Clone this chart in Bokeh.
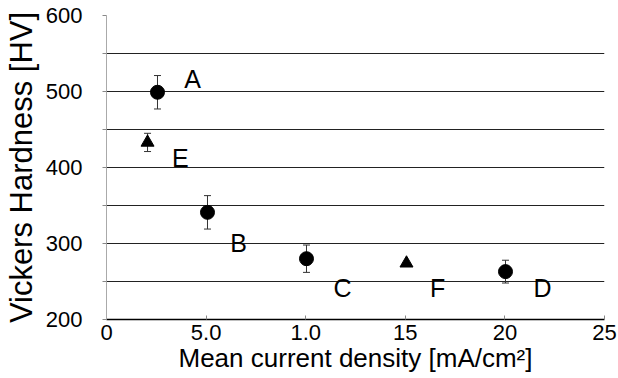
from bokeh.plotting import figure
from bokeh.models import ColumnDataSource, FixedTicker, Whisker, TeeHead, Range1d
from bokeh.core.properties import value
from bokeh.embed import file_html
from bokeh.resources import INLINE

# --- data ---
circle_names = ["A", "B", "C", "D"]
circle_x = [2.56, 5.07, 10.04, 20.03]
circle_y = [499, 341, 280, 263]
circle_err = [22, 22, 18, 15]

tri_names = ["E", "F"]
tri_x = [2.06, 15.06]
tri_y = [433, 274]
tri_err = [12, 0]

label_names = ["A", "E", "B", "C", "F", "D"]
label_x = [4.32, 3.71, 6.63, 11.85, 16.62, 21.89]
label_y = [517, 412, 301, 241, 242, 241]

x_ticks = [0, 5, 10, 15, 20, 25]
x_tick_labels = ["0", "5.0", "1.0", "15", "20", "25"]
y_ticks = [200, 300, 400, 500, 600]
y_minor = [250, 350, 450, 550]

FONT = "Liberation Sans"

p = figure(width=618, height=378, output_backend="svg", toolbar_location=None,
           x_range=Range1d(0, 25), y_range=Range1d(200, 600),
           min_border_left=106, min_border_top=15, min_border_right=14, min_border_bottom=59)
p.outline_line_color = None
p.background_fill_color = "white"

# grid
p.xgrid.visible = False
p.ygrid.ticker = FixedTicker(ticks=y_ticks + y_minor)
p.ygrid.grid_line_color = "#222222"
p.ygrid.grid_line_width = 1

# x axis
p.xaxis.ticker = FixedTicker(ticks=x_ticks)
p.xaxis.major_label_overrides = {t: l for t, l in zip(x_ticks, x_tick_labels)}
p.xaxis.axis_line_color = "black"
p.xaxis.axis_line_width = 1.5
p.xaxis.major_tick_in = 4
p.xaxis.major_tick_out = 0
p.xaxis.major_tick_line_color = "#888888"
p.xaxis.minor_tick_line_color = None
p.xaxis.major_label_standoff = 5
p.xaxis.major_label_text_font = FONT
p.xaxis.major_label_text_font_size = "22px"
p.xaxis.major_label_text_color = "black"
p.xaxis.axis_label = "Mean current density [mA/cm²]"
p.xaxis.axis_label_text_font = FONT
p.xaxis.axis_label_text_font_size = "26px"
p.xaxis.axis_label_text_font_style = "normal"
p.xaxis.axis_label_text_color = "black"
p.xaxis.axis_label_standoff = 0

# y axis
p.yaxis.ticker = FixedTicker(ticks=y_ticks, minor_ticks=y_minor)
p.yaxis.axis_line_color = "#aaaaaa"
p.yaxis.axis_line_width = 1
p.yaxis.major_tick_in = 0
p.yaxis.major_tick_out = 4
p.yaxis.minor_tick_in = 0
p.yaxis.minor_tick_out = 4
p.yaxis.major_tick_line_color = "#888888"
p.yaxis.minor_tick_line_color = "#888888"
p.yaxis.major_label_standoff = 20
p.yaxis.major_label_text_font = FONT
p.yaxis.major_label_text_font_size = "22px"
p.yaxis.major_label_text_color = "black"
p.yaxis.axis_label = "Vickers Hardness [HV]"
p.yaxis.axis_label_text_font = FONT
p.yaxis.axis_label_text_font_size = "31px"
p.yaxis.axis_label_text_font_style = "normal"
p.yaxis.axis_label_text_color = "black"
p.yaxis.axis_label_standoff = 4

# error bars
c_src = ColumnDataSource(dict(x=circle_x, y=circle_y,
                              lo=[y - e for y, e in zip(circle_y, circle_err)],
                              hi=[y + e for y, e in zip(circle_y, circle_err)]))
tx = [x for x, e in zip(tri_x, tri_err) if e > 0]
ty = [y for y, e in zip(tri_y, tri_err) if e > 0]
te = [e for e in tri_err if e > 0]
t_src_err = ColumnDataSource(dict(x=tx, lo=[y - e for y, e in zip(ty, te)],
                                  hi=[y + e for y, e in zip(ty, te)]))
for src in (c_src, t_src_err):
    w = Whisker(source=src, base="x", lower="lo", upper="hi",
                line_color="#333333", line_width=1,
                upper_head=TeeHead(size=7, line_color="#333333", line_width=1),
                lower_head=TeeHead(size=7, line_color="#333333", line_width=1))
    p.add_layout(w)

p.scatter("x", "y", source=c_src, marker="circle", size=14, color="black")
p.scatter(tri_x, tri_y, marker="triangle", size=13, color="black")

p.text(label_x, label_y, text=label_names, text_font=value(FONT), text_font_size="25px",
       text_align="center", text_baseline="middle", text_color="black")

open("out.html", "w").write(file_html(p, INLINE))
